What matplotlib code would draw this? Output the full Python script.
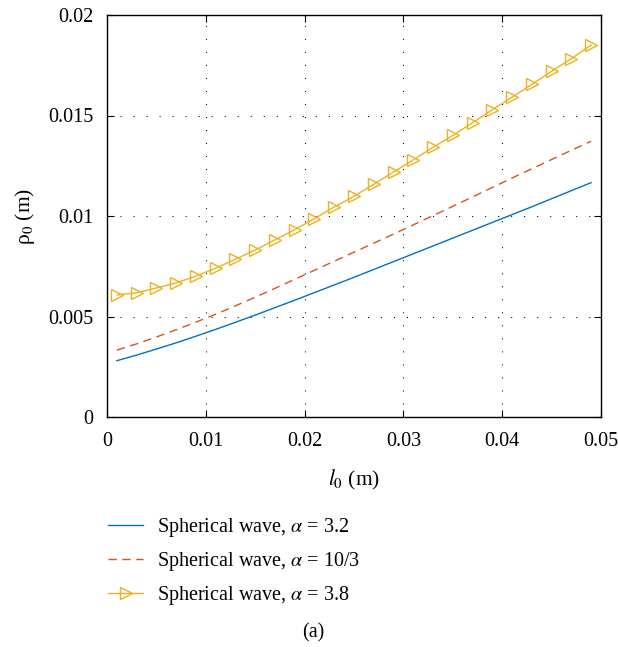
import matplotlib
matplotlib.use('Agg')
import matplotlib.pyplot as plt
from matplotlib.ticker import FixedLocator

plt.rcParams['font.family'] = 'serif'
plt.rcParams['font.serif'] = ['Liberation Serif', 'DejaVu Serif']
plt.rcParams['mathtext.fontset'] = 'stix'

# distance l0 (m), sampled every 2 mm
l0 = [0.001, 0.003, 0.005, 0.007, 0.009, 0.011, 0.013, 0.015, 0.017, 0.019,
      0.021, 0.023, 0.025, 0.027, 0.029, 0.031, 0.033, 0.035, 0.037, 0.039,
      0.041, 0.043, 0.045, 0.047, 0.049]

# rho0 values in mm
rho_32 = [2.80, 3.08, 3.38, 3.69, 4.02, 4.36, 4.71, 5.07, 5.44, 5.81,
          6.19, 6.57, 6.95, 7.34, 7.73, 8.12, 8.51, 8.90, 9.29, 9.68,
          10.07, 10.46, 10.86, 11.26, 11.66]
rho_103 = [3.33, 3.64, 3.98, 4.34, 4.72, 5.11, 5.53, 5.96, 6.40, 6.85,
           7.30, 7.75, 8.20, 8.65, 9.10, 9.56, 10.02, 10.48, 10.95, 11.42,
           11.89, 12.35, 12.81, 13.27, 13.72]
rho_38 = [6.07, 6.18, 6.42, 6.67, 7.01, 7.40, 7.85, 8.31, 8.81, 9.32,
          9.87, 10.45, 10.98, 11.58, 12.19, 12.79, 13.42, 14.01, 14.64, 15.29,
          15.91, 16.55, 17.20, 17.83, 18.51]

labels = ['Spherical wave, $\\alpha$ = 3.2',
          'Spherical wave, $\\alpha$ = 10/3',
          'Spherical wave, $\\alpha$ = 3.8']
x_ticks = [0, 0.01, 0.02, 0.03, 0.04, 0.05]
x_ticklabels = ['0', '0.01', '0.02', '0.03', '0.04', '0.05']
y_ticks = [0, 0.005, 0.01, 0.015, 0.02]
y_ticklabels = ['0', '0.005', '0.01', '0.015', '0.02']

fig = plt.figure(figsize=(6.18, 6.47), dpi=100)
ax = fig.add_axes([107 / 618, 1 - 417 / 647, 494 / 618, 402 / 647])

ax.plot(l0, [v / 1000 for v in rho_32], color='#0072BD', lw=1.0, label=labels[0])
ax.plot(l0, [v / 1000 for v in rho_103], color='#D95319', lw=1.0,
        linestyle=(0, (6, 4)), label=labels[1])
ax.plot(l0, [v / 1000 for v in rho_38], color='#EDB120', lw=1.0, marker='>',
        markersize=8.5, markerfacecolor='none', markeredgewidth=1.0, label=labels[2])

ax.set_xlim(0, 0.05)
ax.set_ylim(0, 0.02)
ax.xaxis.set_major_locator(FixedLocator(x_ticks))
ax.yaxis.set_major_locator(FixedLocator(y_ticks))
ax.set_xticklabels(x_ticklabels)
ax.set_yticklabels(y_ticklabels)
ax.tick_params(direction='in', top=True, right=True, length=5, width=0.8,
               labelsize=14.5)
ax.tick_params(axis='y', pad=10)
ax.tick_params(axis='x', pad=11)
ax.grid(True, color='black', linestyle=(0, (1, 11.5)), linewidth=0.75)
for s in ax.spines.values():
    s.set_linewidth(1.0)

ax.set_xlabel('$l_0$ (m)', fontsize=15.5, labelpad=12)
ax.set_ylabel('ρ$_0$ (m)', fontsize=15.5, labelpad=8)

fig.legend(loc='upper left', bbox_to_anchor=(100 / 618, 1 - 508 / 647),
           frameon=False, fontsize=14.5, handlelength=1.75, handletextpad=0.7,
           labelspacing=0.55, borderaxespad=0)

fig.text(313 / 618, 1 - 633 / 647, '(a)', fontsize=14.5, ha='center', va='center')

fig.savefig('out.png', dpi=100)
